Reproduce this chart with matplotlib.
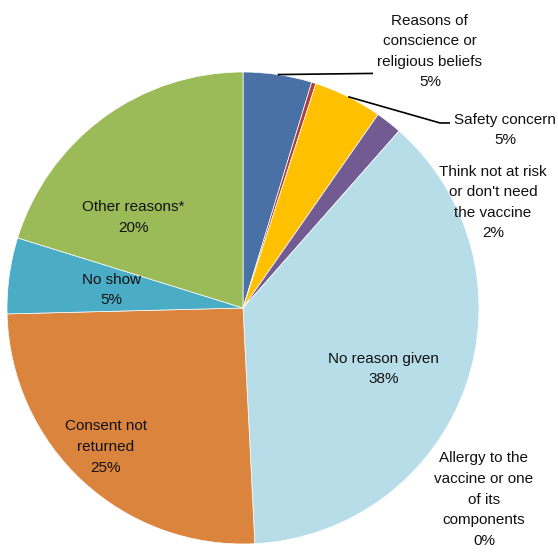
import matplotlib
matplotlib.use("Agg")
import matplotlib.pyplot as plt
import numpy as np

# Reasons for not being vaccinated (share of total, %)
categories = [
    "Reasons of\nconscience or\nreligious beliefs",
    "Allergy to the\nvaccine or one\nof its\ncomponents",
    "Safety concern",
    "Think not at risk\nor don't need\nthe vaccine",
    "No reason given",
    "Consent not\nreturned",
    "No show",
    "Other reasons*",
]
values = [4.7, 0.3, 4.7, 1.8, 37.7, 25.4, 5.2, 20.2]
colors = ["#4A71A5", "#B0403F", "#FFC000", "#725A92",
          "#B7DDE8", "#DB843D", "#4BACC6", "#9BBB59"]

# Label anchor positions (pie radius = 1)
label_pos = [
    (0.792, 1.087),
    (1.021, -0.812),
    (1.110, 0.754),
    (1.059, 0.447),
    (0.597, -0.258),
    (-0.581, -0.589),
    (-0.559, 0.076),
    (-0.466, 0.383),
]
# Leader line end points for the outside labels that need them
leaders = {
    0: [(0.551, 0.994)],
    2: [(0.835, 0.784), (0.877, 0.784)],
}

plt.rcParams["font.family"] = ["Liberation Sans", "DejaVu Sans"]

fig = plt.figure(figsize=(5.58, 5.52), dpi=100)
ax = fig.add_axes([0, 0, 1, 1])

wedges, _ = ax.pie(values, colors=colors, startangle=90, counterclock=False,
                   radius=1.0,
                   wedgeprops=dict(edgecolor="white", linewidth=0.5))

total = sum(values)
cum = 0.0
for i, (name, v) in enumerate(zip(categories, values)):
    mid = 90 - (cum + v / 2) / total * 360
    cum += v
    x, y = label_pos[i]
    ax.text(x, y, f"{name}\n{round(v / total * 100):.0f}%", ha="center",
            va="center", fontsize=11, linespacing=1.6, color="#111111")
    if i in leaders:
        pts = [(np.cos(np.radians(mid)), np.sin(np.radians(mid)))] + leaders[i]
        xs, ys = zip(*pts)
        ax.plot(xs, ys, color="black", linewidth=1.2, solid_capstyle="butt")

ax.set_xlim(-243 / 236, (558 - 243) / 236)
ax.set_ylim(-(552 - 308) / 236, 308 / 236)
ax.set_aspect("auto")
ax.axis("off")

fig.savefig("out.png", dpi=100, facecolor="white")
